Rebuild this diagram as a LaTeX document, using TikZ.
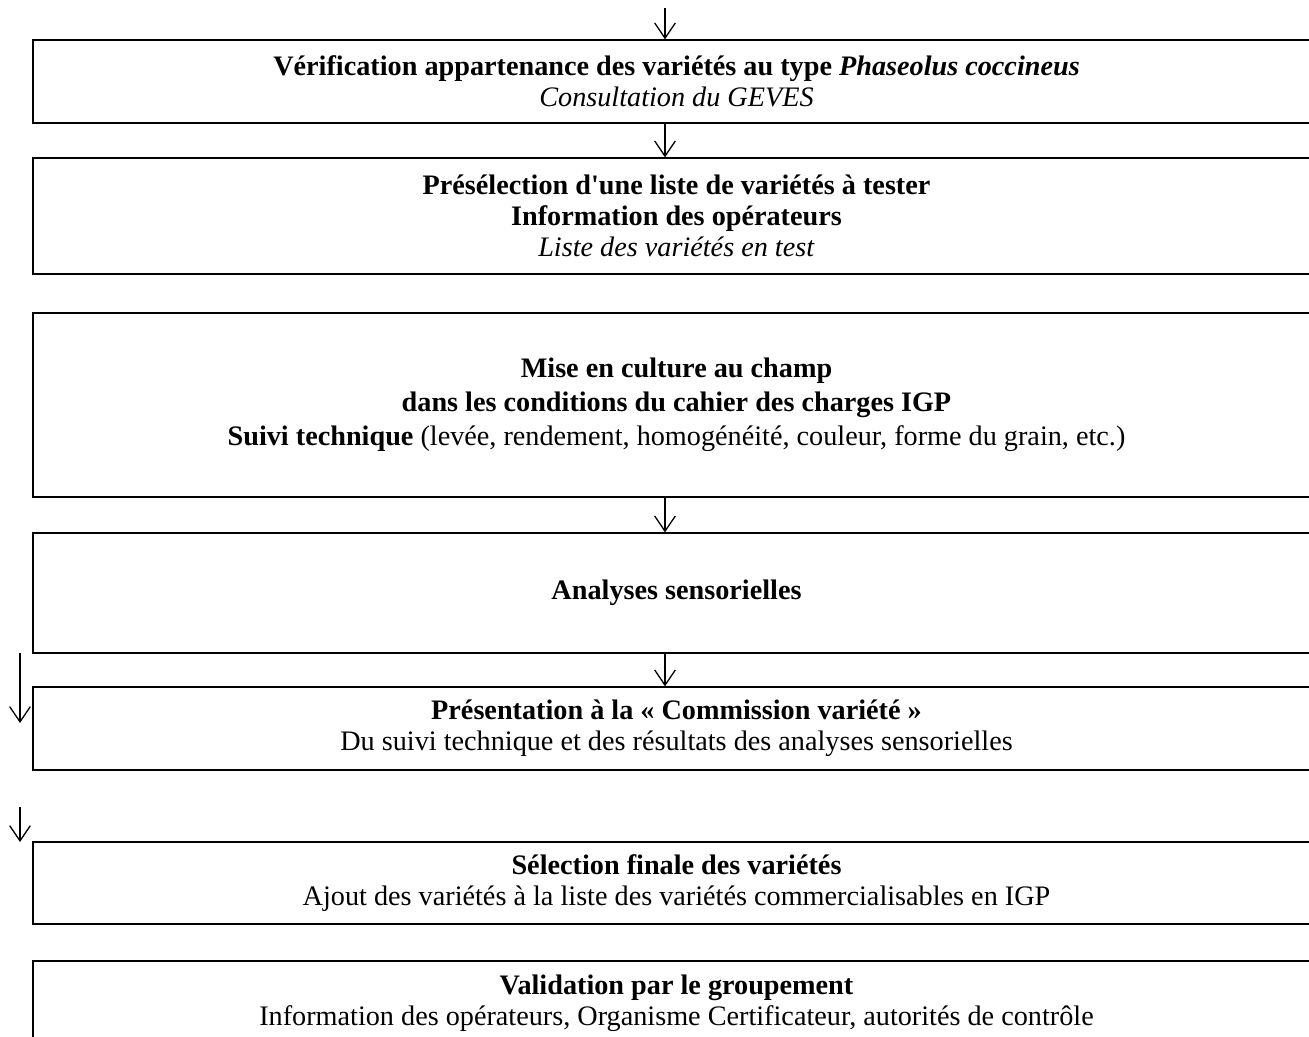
\documentclass[tikz,border=0pt]{standalone}
\usepackage{fontspec}
\setmainfont{Liberation Serif}
\usetikzlibrary{arrows.meta}
\newdimen\px
\px=0.4607pt
\tikzset{
  box/.style={draw, line width=0.6pt, inner sep=0pt, align=center,
    minimum width=1287\px, minimum height=#1\px,
    font=\fontsize{13pt}{14.4pt}\selectfont},
  arr/.style={line width=0.6pt, -{Straight Barb[length=7pt,width=9.5pt]}}
}
\begin{document}
\begin{tikzpicture}[x=0.4607pt,y=-0.4607pt]
\useasboundingbox (0,0) rectangle (1309,1036);
% the steps
\node[box=83] (verif) at (676.5,81.5) {\textbf{Vérification appartenance des variétés au type \textit{Phaseolus coccineus}}\\ \textit{Consultation du GEVES}};
\node[box=116] (presel) at (676.5,216) {\textbf{Présélection d\textquotesingle une liste de variétés à tester}\\ \textbf{Information des opérateurs}\\ \textit{Liste des variétés en test}};
\node[box=184] (culture) at (676.5,405) {\textbf{Mise en culture au champ}\\[1.2pt] \textbf{dans les conditions du cahier des charges IGP}\\[1.2pt] \textbf{Suivi technique} (levée, rendement, homogénéité, couleur, forme du grain, etc.)};
\node[box=120] (sens) at (676.5,593) {\textbf{Analyses sensorielles}};
\node[box=83] (comm) at (676.5,728.5) {\textbf{Présentation à la «~Commission variété~»}\\ Du suivi technique et des résultats des analyses sensorielles};
\node[box=82] (final) at (676.5,883) {\textbf{Sélection finale des variétés}\\ Ajout des variétés à la liste des variétés commercialisables en IGP};
\node[box=84] (valid) at (676.5,1003) {\textbf{Validation par le groupement}\\ Information des opérateurs, Organisme Certificateur, autorités de contrôle};
% arrows
\coordinate (axis) at (665,0);
\coordinate (start) at (665,8);
\draw[arr] (start) -- (verif.north -| axis);
\draw[arr] (verif.south -| axis) -- (presel.north -| axis);
\draw[arr] (culture.south -| axis) -- (sens.north -| axis);
\draw[arr] (sens.south -| axis) -- (comm.north -| axis);
% left side
\coordinate (l1a) at (20,653);
\coordinate (l1b) at (20,723);
\coordinate (l2a) at (20,807);
\coordinate (l2b) at (20,842);
\draw[arr] (l1a) -- (l1b);
\draw[arr] (l2a) -- (l2b);
\end{tikzpicture}
\end{document}
